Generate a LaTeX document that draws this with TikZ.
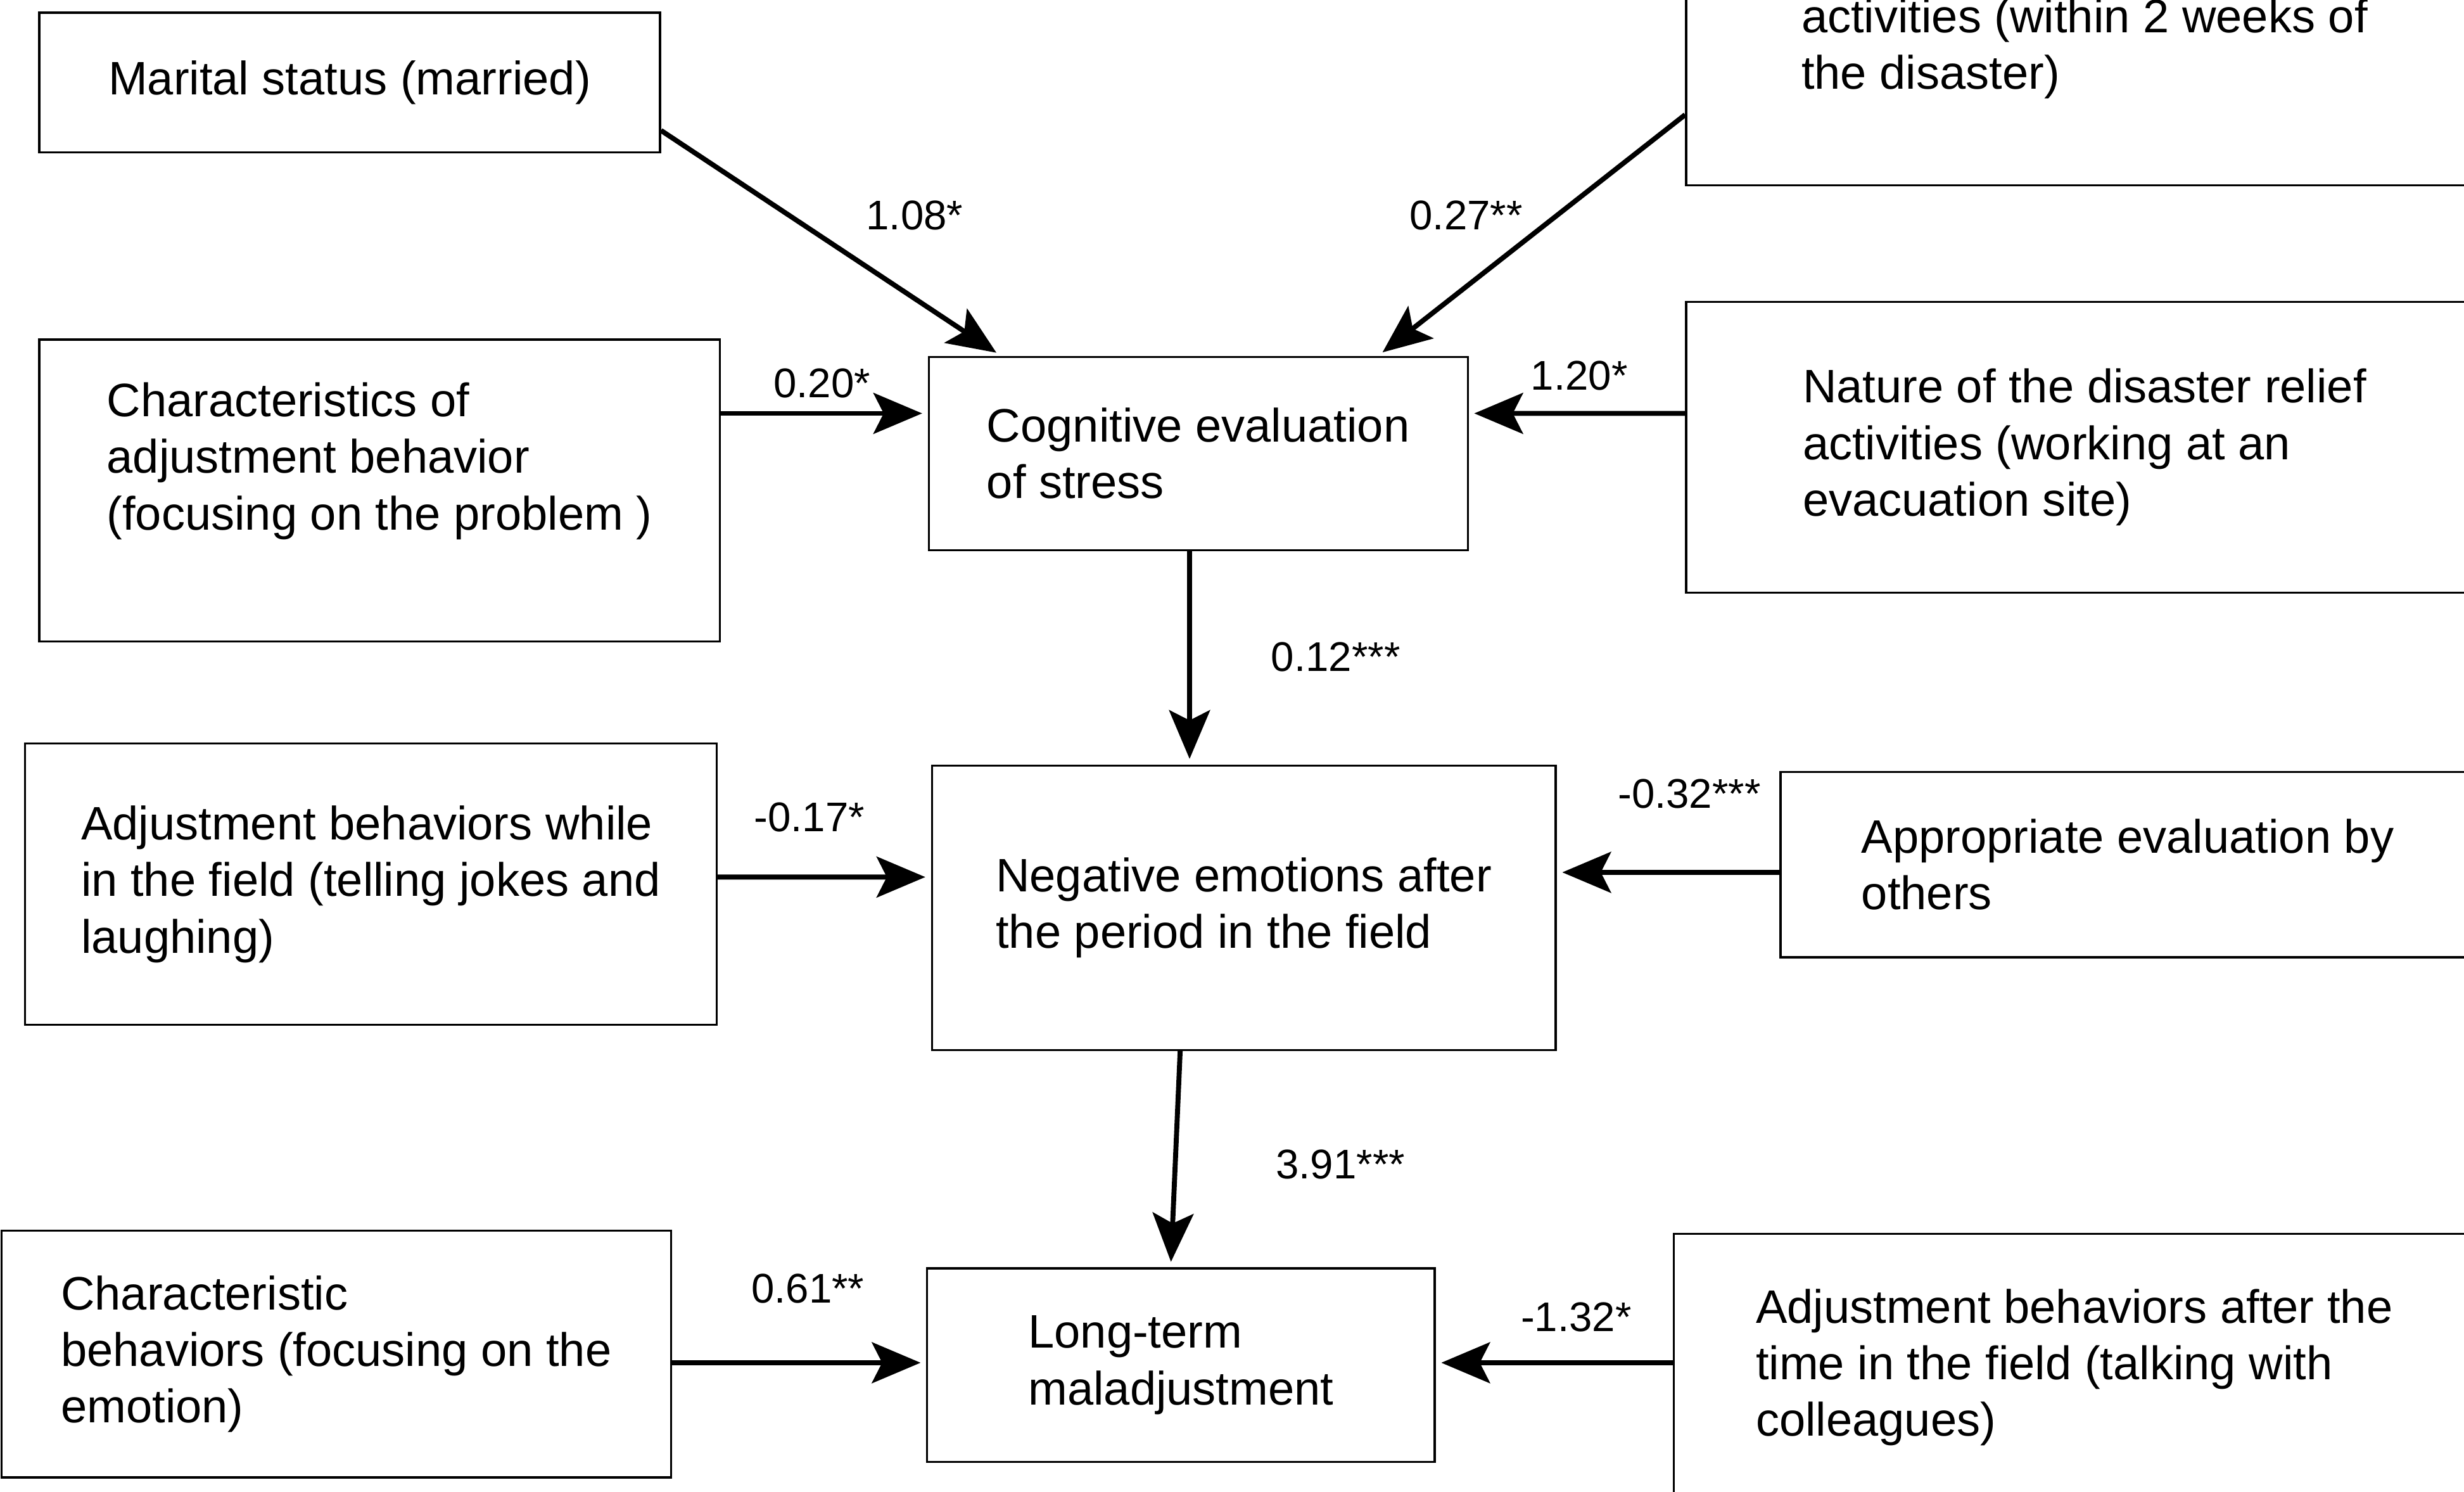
\documentclass[tikz,border=0pt]{standalone}
\usepackage{fontspec}
\setmainfont{Liberation Sans}
\usepackage{tikz}
\usetikzlibrary{arrows.meta, positioning}

\begin{document}
\begin{tikzpicture}[
    box/.style={rectangle, draw, line width=0.75pt, inner sep=2pt, align=left, font=\fontsize{17}{20.5}\selectfont},
    lbl/.style={inner sep=1pt, font=\fontsize{15}{18}\selectfont},
    arr/.style={-{Stealth[length=0.62cm, width=0.52cm, inset=0.13cm]}, line width=1.8pt, shorten >=2pt},
]
    \useasboundingbox (0,0) rectangle (31.36,-18.98);
    \clip (0,0) rectangle (31.36,-18.98);

    % Row 1: background variables
    \node[box, minimum width=7.90cm, minimum height=1.78cm] (marital) at (4.45, -1.05) {Marital status (married)};
    \node[box, minimum width=10.14cm, minimum height=3.48cm] (timing) at (26.53, -0.62) {activities (within 2 weeks of\\the disaster)};

    % Row 2: cognitive evaluation and its predictors
    \node[box, minimum width=8.66cm, minimum height=3.84cm] (charprob) at (4.83, -6.24) {Characteristics of\\adjustment behavior\\(focusing on the problem )\\[0.15cm]~};
    \node[box, minimum width=6.86cm, minimum height=2.46cm] (cog) at (15.25, -5.77) {Cognitive evaluation\\of stress};
    \node[box, minimum width=10.14cm, minimum height=3.70cm] (nature) at (26.53, -5.69) {Nature of the disaster relief\\activities (working at an\\evacuation site)};

    % Row 3: negative emotions
    \node[box, minimum width=8.80cm, minimum height=3.58cm] (adjfield) at (4.72, -11.25) {Adjustment behaviors\ while\\in the field (telling jokes and\\laughing)};
    \node[box, minimum width=7.94cm, minimum height=3.62cm] (negemo) at (15.83, -11.55) {Negative emotions after\\the period in the field};
    \node[box, minimum width=8.84cm, minimum height=2.36cm] (approp) at (27.08, -11.00) {Appropriate evaluation by\\others};

    % Row 4: long-term outcome
    \node[box, minimum width=8.52cm, minimum height=3.14cm] (charemo) at (4.28, -17.23) {Characteristic\\behaviors (focusing on the\\emotion)};
    \node[box, minimum width=6.46cm, minimum height=2.46cm] (longterm) at (15.03, -17.37) {Long-term\\maladjustment};
    \node[box, minimum width=10.20cm, minimum height=3.40cm] (adjafter) at (26.40, -17.40) {Adjustment behaviors after the\\time in the field (talking with\\colleagues)};

    % Paths into cognitive evaluation
    \draw[arr] ([yshift=-0.61cm]marital.east) -- ([xshift=-2.51cm]cog.north);
    \draw[arr] ([yshift=-0.84cm]timing.west) -- ([xshift=2.29cm]cog.north);
    \draw[arr] ([yshift=0.98cm]charprob.east) -- ([yshift=0.51cm]cog.west);
    \draw[arr] ([yshift=0.43cm]nature.west) -- ([yshift=0.51cm]cog.east);

    % Paths into negative emotions
    \draw[arr] ([xshift=-0.11cm]cog.south) -- ([xshift=-0.69cm]negemo.north);
    \draw[arr] ([yshift=0.09cm]adjfield.east) -- ([yshift=0.39cm]negemo.west);
    \draw[arr] ([yshift=-0.10cm]approp.west) -- ([yshift=0.45cm]negemo.east);

    % Paths into long-term maladjustment
    \draw[arr] ([xshift=-0.81cm]negemo.south) -- ([xshift=-0.13cm]longterm.north);
    \draw[arr] ([yshift=-0.11cm]charemo.east) -- ([yshift=0.03cm]longterm.west);
    \draw[arr] ([yshift=0.06cm]adjafter.west) -- ([yshift=0.03cm]longterm.east);

    % Path coefficients
    \node[lbl] (c1)  at (11.64, -2.74)  {1.08*};
    \node[lbl] (c2)  at (18.66, -2.74)  {0.27**};
    \node[lbl] (c3)  at (10.46, -4.88)  {0.20*};
    \node[lbl] (c4)  at (20.10, -4.78)  {1.20*};
    \node[lbl] (c5)  at (17.00, -8.36)  {0.12***};
    \node[lbl] (c6)  at (10.30, -10.40) {-0.17*};
    \node[lbl] (c7)  at (21.50, -10.10) {-0.32***};
    \node[lbl] (c8)  at (17.06, -14.82) {3.91***};
    \node[lbl] (c9)  at (10.28, -16.40) {0.61**};
    \node[lbl] (c10) at (20.06, -16.76) {-1.32*};
\end{tikzpicture}
\end{document}
